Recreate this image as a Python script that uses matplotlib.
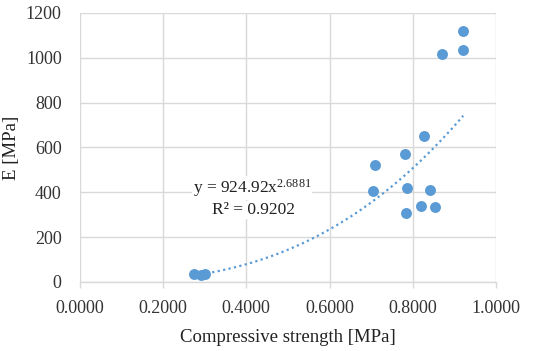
import matplotlib
matplotlib.use('Agg')
import matplotlib.pyplot as plt
import numpy as np

# measured points (compressive strength, E)
strength = [0.275, 0.292, 0.300, 0.705, 0.708, 0.782, 0.784, 0.787,
            0.819, 0.828, 0.842, 0.853, 0.870, 0.921, 0.921]
modulus = [36, 31, 34, 407, 520, 572, 308, 418,
           339, 653, 412, 332, 1017, 1121, 1035]

# power trendline from the chart
coef_a = 924.92
coef_b = 2.6881
r2 = 0.9202

plt.rcParams['font.family'] = ['Liberation Serif', 'DejaVu Serif']
plt.rcParams['mathtext.default'] = 'regular'

fig = plt.figure(figsize=(5.5, 3.51), dpi=100)
ax = fig.add_axes([0.145, 0.197, 0.757, 0.766])

xt = np.linspace(0.305, 0.921, 100)
ax.plot(xt, coef_a * xt ** coef_b, color='#5B9BD5', linestyle=(0, (1, 1.5)),
        linewidth=1.6, zorder=2)
ax.scatter(strength, modulus, s=62, color='#5B9BD5', zorder=3, linewidths=0)

ax.set_xlim(0, 1.0)
ax.set_ylim(0, 1200)
ax.set_xticks(np.arange(0, 1.01, 0.2))
ax.set_yticks(np.arange(0, 1201, 200))
ax.set_xticklabels(['%.4f' % v for v in np.arange(0, 1.01, 0.2)])
ax.grid(True, color='#D9D9D9', linewidth=1.0, zorder=0)
ax.set_axisbelow(True)
for s in ['top', 'right', 'left']:
    ax.spines[s].set_visible(False)
ax.spines['bottom'].set_color('#D9D9D9')
ax.spines['bottom'].set_linewidth(1.0)
ax.tick_params(axis='x', colors='#D9D9D9', length=4, width=1, labelcolor='#333333',
               labelsize=13, pad=9)
ax.tick_params(axis='y', length=0, labelcolor='#333333', labelsize=13, pad=13)

ax.set_xlabel('Compressive strength [MPa]', fontsize=13.5, color='#222222', labelpad=9)
ax.set_ylabel('E [MPa]', fontsize=13.5, color='#222222', va='center')
ax.yaxis.set_label_coords(-0.163, 0.5)

ax.text(0.414, 419, 'y = %.2fx$^{%.4f}$' % (coef_a, coef_b), ha='center', va='center',
        fontsize=12.5, color='#222222', zorder=4,
        bbox=dict(facecolor='white', edgecolor='none', pad=0.5))
ax.text(0.417, 320, 'R² = %.4f' % r2, ha='center', va='center',
        fontsize=12.5, color='#222222', zorder=4,
        bbox=dict(facecolor='white', edgecolor='none', pad=0.5))

fig.savefig('out.png', dpi=100)
